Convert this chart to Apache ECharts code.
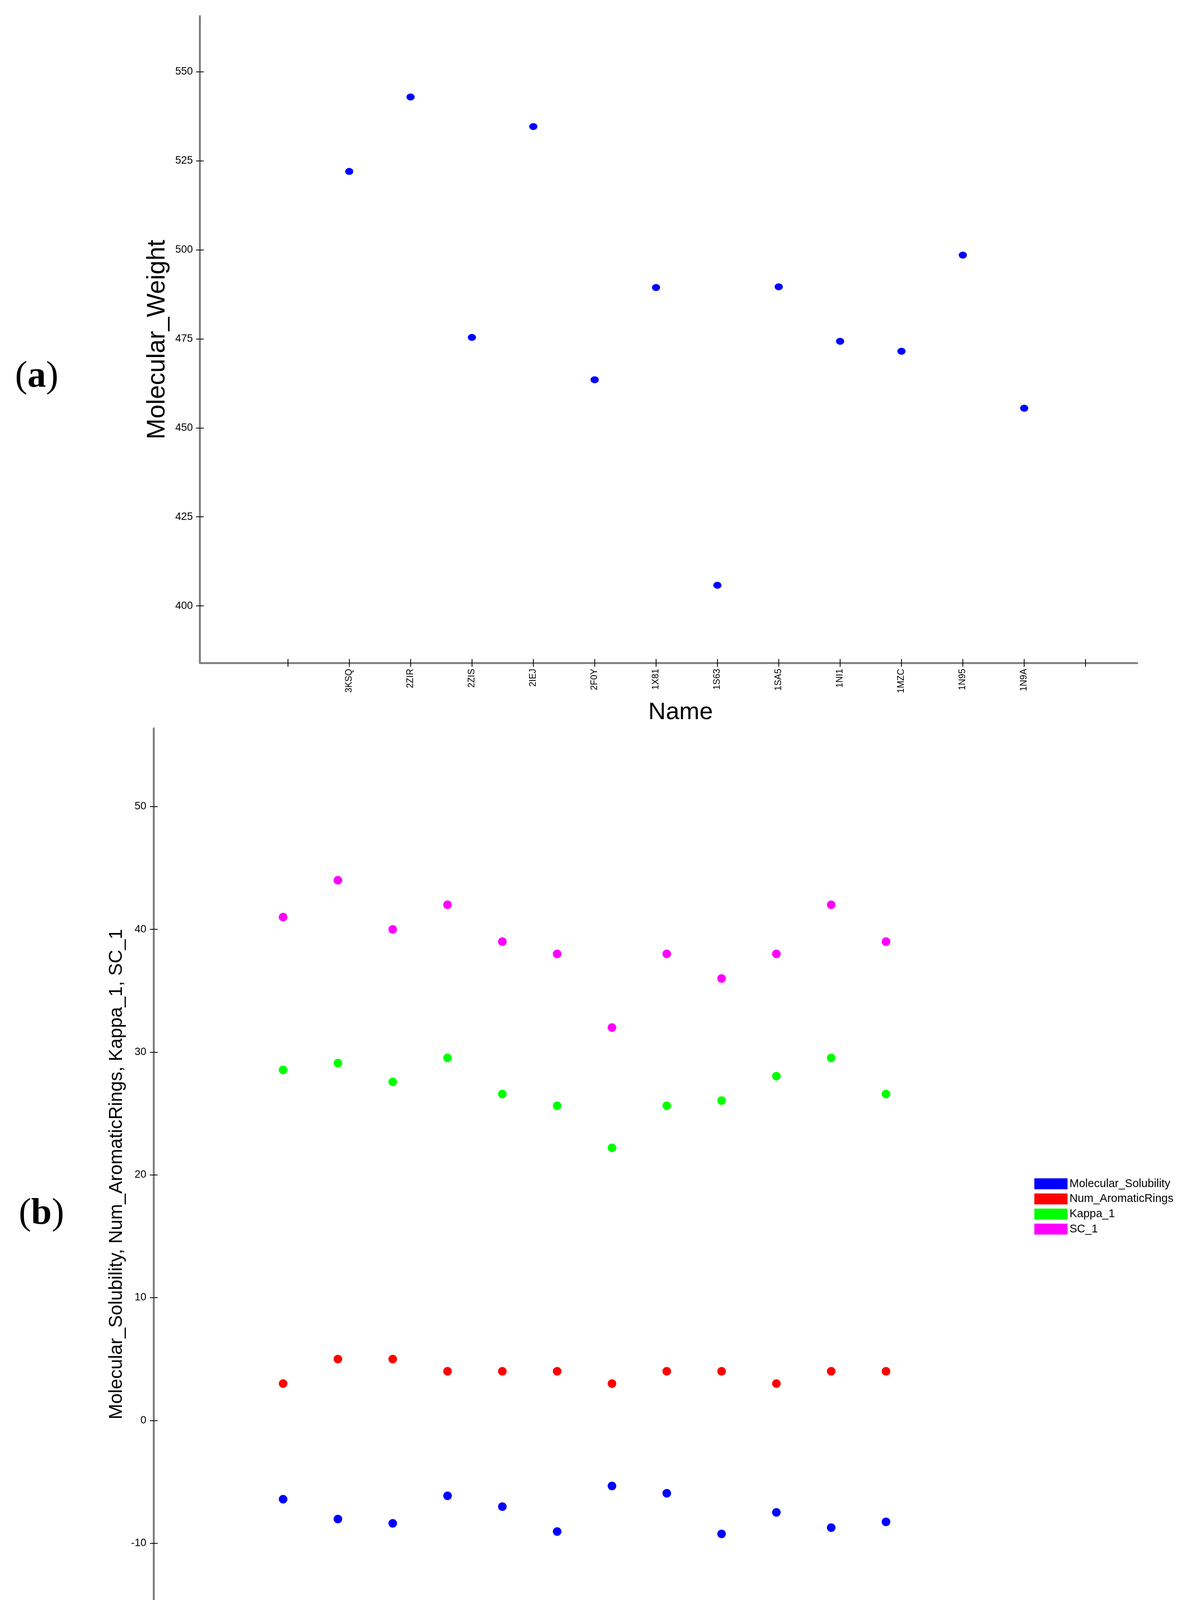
<!DOCTYPE html>
<html>
<head>
<meta charset="utf-8">
<script src="https://cdn.jsdelivr.net/npm/echarts@6/dist/echarts.min.js"></script>
<style>
html,body{margin:0;padding:0;background:#ffffff;}
#chart{width:3030px;height:4368px;}
</style>
</head>
<body>
<div id="chart"></div>
<script>
// ---------------- data ----------------
const names = ['3KSQ','2ZIR','2ZIS','2IEJ','2F0Y','1X81','1S63','1SA5','1NI1','1MZC','1N95','1N9A'];
const molecularWeight = [522.0, 542.9, 475.4, 534.6, 463.5, 489.4, 405.8, 489.6, 474.3, 471.5, 498.5, 455.5];
const molecularSolubility = [-6.42, -8.03, -8.38, -6.14, -7.02, -9.05, -5.34, -5.93, -9.24, -7.49, -8.73, -8.26];
const numAromaticRings = [3, 5, 5, 4, 4, 4, 3, 4, 4, 3, 4, 4];
const kappa1 = [28.55, 29.11, 27.57, 29.53, 26.59, 25.63, 22.2, 25.63, 26.05, 28.04, 29.53, 26.59];
const sc1 = [41, 44, 40, 42, 39, 38, 32, 38, 36, 38, 42, 39];
const weightTicks = [400, 425, 450, 475, 500, 525, 550];
const panelBTicks = [-10, 0, 10, 20, 30, 40, 50];
const seriesBNames = ['Molecular_Solubility', 'Num_AromaticRings', 'Kappa_1', 'SC_1'];
const seriesBValues = [molecularSolubility, numAromaticRings, kappa1, sc1];

// ---------------- styles ----------------
const seriesBColors = ['#0000ff', '#ff0000', '#00ff00', '#ff00ff'];
const FONT = 'Liberation Sans';
const AXIS_GRAY = '#808080';

// category slots: names sit on positions 1..n, with an empty tick on each side
const catPositions = names.map((_, i) => i + 1);
const tickPositions = [0].concat(catPositions, [names.length + 1]);

function xAxisPair(gridIndex, min, max, labelSize, labelMargin, nameSize, nameGap, namePadding) {
  const common = { type: 'value', gridIndex, min, max, position: 'bottom', splitLine: { show: false } };
  return [
    Object.assign({}, common, {
      axisLine: { show: true, onZero: false, lineStyle: { color: AXIS_GRAY, width: 5 } },
      axisTick: { show: true, customValues: tickPositions, length: 10, lineStyle: { color: '#000', width: 2 } },
      axisLabel: {
        show: true, customValues: catPositions, rotate: 90, margin: labelMargin,
        formatter: v => names[Math.round(v) - 1] || '',
        fontFamily: FONT, fontSize: labelSize, color: '#000'
      },
      name: 'Name', nameLocation: 'middle', nameGap: nameGap,
      nameTextStyle: { fontFamily: FONT, fontSize: nameSize, color: '#000', padding: namePadding }
    }),
    Object.assign({}, common, {
      axisLine: { show: false, onZero: false },
      axisTick: { show: true, inside: true, customValues: tickPositions, length: 10, lineStyle: { color: '#000', width: 2 } },
      axisLabel: { show: false }
    })
  ];
}

function yAxisPair(gridIndex, min, max, ticks, labelSize, labelMargin, name, nameSize, nameGap) {
  const common = { type: 'value', gridIndex, min, max, position: 'left', splitLine: { show: false } };
  return [
    Object.assign({}, common, {
      axisLine: { show: true, onZero: false, lineStyle: { color: AXIS_GRAY, width: 5 } },
      axisTick: { show: true, customValues: ticks, length: 10, lineStyle: { color: '#000', width: 2 } },
      axisLabel: { show: true, customValues: ticks, margin: labelMargin, fontFamily: FONT, fontSize: labelSize, color: '#000' },
      name: name, nameLocation: 'middle', nameGap: nameGap, nameRotate: 90,
      nameTextStyle: { fontFamily: FONT, fontSize: nameSize, color: '#000' }
    }),
    Object.assign({}, common, {
      axisLine: { show: false, onZero: false },
      axisTick: { show: true, inside: true, customValues: ticks, length: 10, lineStyle: { color: '#000', width: 2 } },
      axisLabel: { show: false }
    })
  ];
}

const chart = echarts.init(document.getElementById('chart'), null, { renderer: 'canvas', width: 3030, height: 4368 });

const xAxes = [].concat(
  xAxisPair(0, -1.433, 13.84, 23, 15, 62, 96, [0, 0, 0, 62]),
  xAxisPair(1, -1.36, 14.35, 25, 17, 50, 104, 0)
);
const yAxes = [].concat(
  yAxisPair(0, 384, 565.6, weightTicks, 27, 18, 'Molecular_Weight', 64, 76),
  yAxisPair(1, -16.25, 56.37, panelBTicks, 27, 19, 'Molecular_Solubility, Num_AromaticRings, Kappa_1, SC_1', 48, 71)
);

const series = [{
  name: 'Molecular_Weight', type: 'scatter', xAxisIndex: 0, yAxisIndex: 0,
  data: molecularWeight.map((v, i) => [catPositions[i], v]),
  symbol: 'circle', symbolSize: [21, 18], itemStyle: { color: '#0000ff', opacity: 1 }
}];
seriesBNames.forEach((nm, k) => {
  series.push({
    name: nm, type: 'scatter', xAxisIndex: 2, yAxisIndex: 2,
    data: seriesBValues[k].map((v, i) => [catPositions[i], v]),
    symbol: 'circle', symbolSize: 22, itemStyle: { color: seriesBColors[k], opacity: 1 }
  });
});

chart.setOption({
  animation: false,
  backgroundColor: '#ffffff',
  grid: [
    { left: 511.6, top: 41.3, width: 2398.4, height: 1655.7, containLabel: false, outerBoundsMode: 'none' },
    { left: 393.5, top: 1864.7, width: 2203.5, height: 2282.3, containLabel: false, outerBoundsMode: 'none' }
  ],
  xAxis: xAxes,
  yAxis: yAxes,
  legend: {
    orient: 'vertical', left: 2647, top: 3016, padding: 0,
    itemWidth: 85, itemHeight: 28, itemGap: 9.7, icon: 'rect',
    data: seriesBNames, selectedMode: false,
    itemStyle: { opacity: 1 },
    textStyle: { fontFamily: FONT, fontSize: 29, color: '#000' }
  },
  graphic: [
    {
      type: 'text', x: 94, y: 965,
      style: {
        text: '{p|(}{b|a}{p|)}', textAlign: 'center', textVerticalAlign: 'middle',
        rich: {
          p: { fontFamily: 'Liberation Serif', fontSize: 95, fill: '#000' },
          b: { fontFamily: 'Liberation Serif', fontSize: 95, fontWeight: 'bold', fill: '#000' }
        }
      }
    },
    {
      type: 'text', x: 106, y: 3108,
      style: {
        text: '{p|(}{b|b}{p|)}', textAlign: 'center', textVerticalAlign: 'middle',
        rich: {
          p: { fontFamily: 'Liberation Serif', fontSize: 95, fill: '#000' },
          b: { fontFamily: 'Liberation Serif', fontSize: 95, fontWeight: 'bold', fill: '#000' }
        }
      }
    }
  ],
  series: series
});
</script>
</body>
</html>
